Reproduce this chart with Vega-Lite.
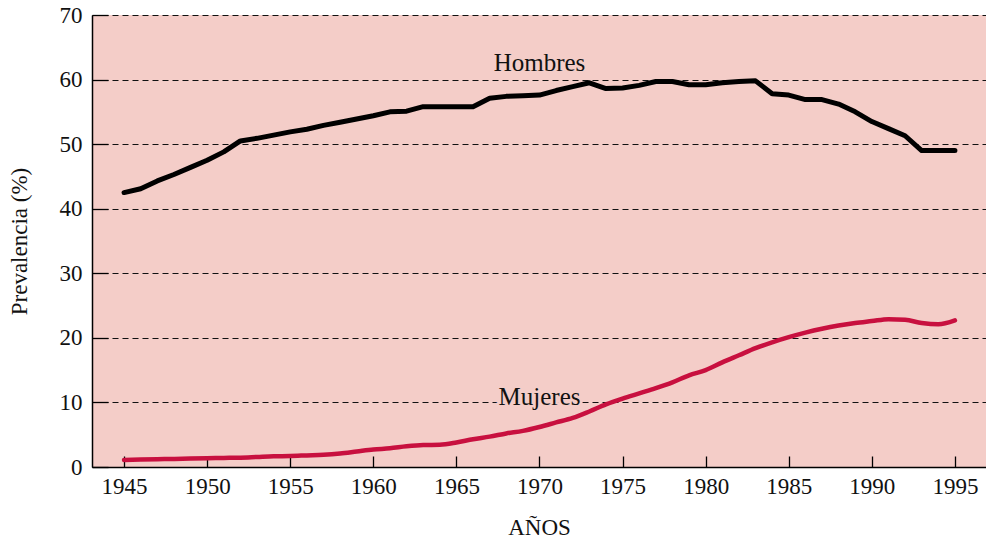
{
  "$schema": "https://vega.github.io/schema/vega-lite/v6.json",
  "width": 894,
  "height": 452,
  "autosize": {"type": "none"},
  "padding": {"left": 92, "top": 15, "right": 0, "bottom": 72},
  "background": "#ffffff",
  "view": {"stroke": null, "fill": "#f4cdc8"},
  "data": {
    "values": [
      {"year": 1945, "value": 42.5, "sex": "Hombres"},
      {"year": 1946, "value": 43.1, "sex": "Hombres"},
      {"year": 1947, "value": 44.3, "sex": "Hombres"},
      {"year": 1948, "value": 45.3, "sex": "Hombres"},
      {"year": 1949, "value": 46.4, "sex": "Hombres"},
      {"year": 1950, "value": 47.5, "sex": "Hombres"},
      {"year": 1951, "value": 48.8, "sex": "Hombres"},
      {"year": 1952, "value": 50.5, "sex": "Hombres"},
      {"year": 1953, "value": 50.9, "sex": "Hombres"},
      {"year": 1954, "value": 51.4, "sex": "Hombres"},
      {"year": 1955, "value": 51.9, "sex": "Hombres"},
      {"year": 1956, "value": 52.3, "sex": "Hombres"},
      {"year": 1957, "value": 52.9, "sex": "Hombres"},
      {"year": 1958, "value": 53.4, "sex": "Hombres"},
      {"year": 1959, "value": 53.9, "sex": "Hombres"},
      {"year": 1960, "value": 54.4, "sex": "Hombres"},
      {"year": 1961, "value": 55.0, "sex": "Hombres"},
      {"year": 1962, "value": 55.1, "sex": "Hombres"},
      {"year": 1963, "value": 55.8, "sex": "Hombres"},
      {"year": 1964, "value": 55.8, "sex": "Hombres"},
      {"year": 1965, "value": 55.8, "sex": "Hombres"},
      {"year": 1966, "value": 55.8, "sex": "Hombres"},
      {"year": 1967, "value": 57.1, "sex": "Hombres"},
      {"year": 1968, "value": 57.4, "sex": "Hombres"},
      {"year": 1969, "value": 57.5, "sex": "Hombres"},
      {"year": 1970, "value": 57.6, "sex": "Hombres"},
      {"year": 1971, "value": 58.3, "sex": "Hombres"},
      {"year": 1972, "value": 58.9, "sex": "Hombres"},
      {"year": 1973, "value": 59.5, "sex": "Hombres"},
      {"year": 1974, "value": 58.6, "sex": "Hombres"},
      {"year": 1975, "value": 58.7, "sex": "Hombres"},
      {"year": 1976, "value": 59.1, "sex": "Hombres"},
      {"year": 1977, "value": 59.7, "sex": "Hombres"},
      {"year": 1978, "value": 59.7, "sex": "Hombres"},
      {"year": 1979, "value": 59.2, "sex": "Hombres"},
      {"year": 1980, "value": 59.2, "sex": "Hombres"},
      {"year": 1981, "value": 59.5, "sex": "Hombres"},
      {"year": 1982, "value": 59.7, "sex": "Hombres"},
      {"year": 1983, "value": 59.8, "sex": "Hombres"},
      {"year": 1984, "value": 57.8, "sex": "Hombres"},
      {"year": 1985, "value": 57.6, "sex": "Hombres"},
      {"year": 1986, "value": 56.9, "sex": "Hombres"},
      {"year": 1987, "value": 56.9, "sex": "Hombres"},
      {"year": 1988, "value": 56.2, "sex": "Hombres"},
      {"year": 1989, "value": 55.0, "sex": "Hombres"},
      {"year": 1990, "value": 53.5, "sex": "Hombres"},
      {"year": 1991, "value": 52.4, "sex": "Hombres"},
      {"year": 1992, "value": 51.3, "sex": "Hombres"},
      {"year": 1993, "value": 49.0, "sex": "Hombres"},
      {"year": 1994, "value": 49.0, "sex": "Hombres"},
      {"year": 1995, "value": 49.0, "sex": "Hombres"},
      {"year": 1945, "value": 1.1, "sex": "Mujeres"},
      {"year": 1946, "value": 1.15, "sex": "Mujeres"},
      {"year": 1947, "value": 1.2, "sex": "Mujeres"},
      {"year": 1948, "value": 1.25, "sex": "Mujeres"},
      {"year": 1949, "value": 1.3, "sex": "Mujeres"},
      {"year": 1950, "value": 1.35, "sex": "Mujeres"},
      {"year": 1951, "value": 1.4, "sex": "Mujeres"},
      {"year": 1952, "value": 1.45, "sex": "Mujeres"},
      {"year": 1953, "value": 1.55, "sex": "Mujeres"},
      {"year": 1954, "value": 1.65, "sex": "Mujeres"},
      {"year": 1955, "value": 1.7, "sex": "Mujeres"},
      {"year": 1956, "value": 1.8, "sex": "Mujeres"},
      {"year": 1957, "value": 1.9, "sex": "Mujeres"},
      {"year": 1958, "value": 2.1, "sex": "Mujeres"},
      {"year": 1959, "value": 2.4, "sex": "Mujeres"},
      {"year": 1960, "value": 2.7, "sex": "Mujeres"},
      {"year": 1961, "value": 2.9, "sex": "Mujeres"},
      {"year": 1962, "value": 3.2, "sex": "Mujeres"},
      {"year": 1963, "value": 3.4, "sex": "Mujeres"},
      {"year": 1964, "value": 3.45, "sex": "Mujeres"},
      {"year": 1965, "value": 3.8, "sex": "Mujeres"},
      {"year": 1966, "value": 4.3, "sex": "Mujeres"},
      {"year": 1967, "value": 4.7, "sex": "Mujeres"},
      {"year": 1968, "value": 5.2, "sex": "Mujeres"},
      {"year": 1969, "value": 5.6, "sex": "Mujeres"},
      {"year": 1970, "value": 6.2, "sex": "Mujeres"},
      {"year": 1971, "value": 6.9, "sex": "Mujeres"},
      {"year": 1972, "value": 7.6, "sex": "Mujeres"},
      {"year": 1973, "value": 8.6, "sex": "Mujeres"},
      {"year": 1974, "value": 9.7, "sex": "Mujeres"},
      {"year": 1975, "value": 10.6, "sex": "Mujeres"},
      {"year": 1976, "value": 11.4, "sex": "Mujeres"},
      {"year": 1977, "value": 12.2, "sex": "Mujeres"},
      {"year": 1978, "value": 13.1, "sex": "Mujeres"},
      {"year": 1979, "value": 14.2, "sex": "Mujeres"},
      {"year": 1980, "value": 15.0, "sex": "Mujeres"},
      {"year": 1981, "value": 16.2, "sex": "Mujeres"},
      {"year": 1982, "value": 17.3, "sex": "Mujeres"},
      {"year": 1983, "value": 18.4, "sex": "Mujeres"},
      {"year": 1984, "value": 19.3, "sex": "Mujeres"},
      {"year": 1985, "value": 20.1, "sex": "Mujeres"},
      {"year": 1986, "value": 20.8, "sex": "Mujeres"},
      {"year": 1987, "value": 21.4, "sex": "Mujeres"},
      {"year": 1988, "value": 21.9, "sex": "Mujeres"},
      {"year": 1989, "value": 22.3, "sex": "Mujeres"},
      {"year": 1990, "value": 22.6, "sex": "Mujeres"},
      {"year": 1991, "value": 22.9, "sex": "Mujeres"},
      {"year": 1992, "value": 22.8, "sex": "Mujeres"},
      {"year": 1993, "value": 22.3, "sex": "Mujeres"},
      {"year": 1994, "value": 22.1, "sex": "Mujeres"},
      {"year": 1995, "value": 22.7, "sex": "Mujeres"}
    ]
  },
  "encoding": {
    "x": {
      "field": "year",
      "type": "quantitative",
      "scale": {"domain": [1943.07, 1996.87], "nice": false, "zero": false},
      "axis": {
        "title": "AÑOS",
        "values": [1945, 1950, 1955, 1960, 1965, 1970, 1975, 1980, 1985, 1990, 1995],
        "format": "d",
        "grid": false,
        "tickSize": -11,
        "tickColor": "#000000",
        "tickWidth": 1.3,
        "domainColor": "#000000",
        "domainWidth": 1.5,
        "labelFont": "Liberation Serif",
        "labelFontSize": 23,
        "labelColor": "#111111",
        "labelPadding": 19,
        "labelFlush": false,
        "labelOverlap": false,
        "titleFont": "Liberation Serif",
        "titleFontSize": 23,
        "titleFontWeight": "normal",
        "titleColor": "#111111",
        "titlePadding": 18
      }
    },
    "y": {
      "field": "value",
      "type": "quantitative",
      "scale": {"domain": [0, 70], "nice": false, "zero": true},
      "axis": {
        "title": "Prevalencia (%)",
        "values": [0, 10, 20, 30, 40, 50, 60, 70],
        "grid": true,
        "gridDash": [6, 4],
        "gridColor": "#111111",
        "gridWidth": 1,
        "tickSize": -16,
        "tickColor": "#000000",
        "tickWidth": 1.3,
        "domainColor": "#000000",
        "domainWidth": 1.5,
        "labelFont": "Liberation Serif",
        "labelFontSize": 23,
        "labelColor": "#111111",
        "labelPadding": 26,
        "titleFont": "Liberation Serif",
        "titleFontSize": 23,
        "titleFontWeight": "normal",
        "titleColor": "#111111",
        "titlePadding": 28
      }
    }
  },
  "layer": [
    {
      "transform": [{"filter": "datum.sex === 'Hombres'"}],
      "mark": {"type": "line", "color": "#000000", "strokeWidth": 5, "strokeCap": "round", "strokeJoin": "round"}
    },
    {
      "transform": [{"filter": "datum.sex === 'Mujeres'"}],
      "mark": {"type": "line", "color": "#c8103f", "strokeWidth": 4.5, "interpolate": "monotone", "strokeCap": "round"}
    },
    {
      "data": {"values": [
        {"year": 1970, "value": 61.3, "label": "Hombres"},
        {"year": 1970, "value": 9.6, "label": "Mujeres"}
      ]},
      "mark": {"type": "text", "font": "Liberation Serif", "fontSize": 25, "align": "center", "baseline": "alphabetic", "color": "#f4cdc8", "stroke": "#f4cdc8", "strokeWidth": 5},
      "encoding": {"text": {"field": "label"}}
    },
    {
      "data": {"values": [
        {"year": 1970, "value": 61.3, "label": "Hombres"},
        {"year": 1970, "value": 9.6, "label": "Mujeres"}
      ]},
      "mark": {"type": "text", "font": "Liberation Serif", "fontSize": 25, "align": "center", "baseline": "alphabetic", "color": "#111111"},
      "encoding": {"text": {"field": "label"}}
    }
  ]
}
